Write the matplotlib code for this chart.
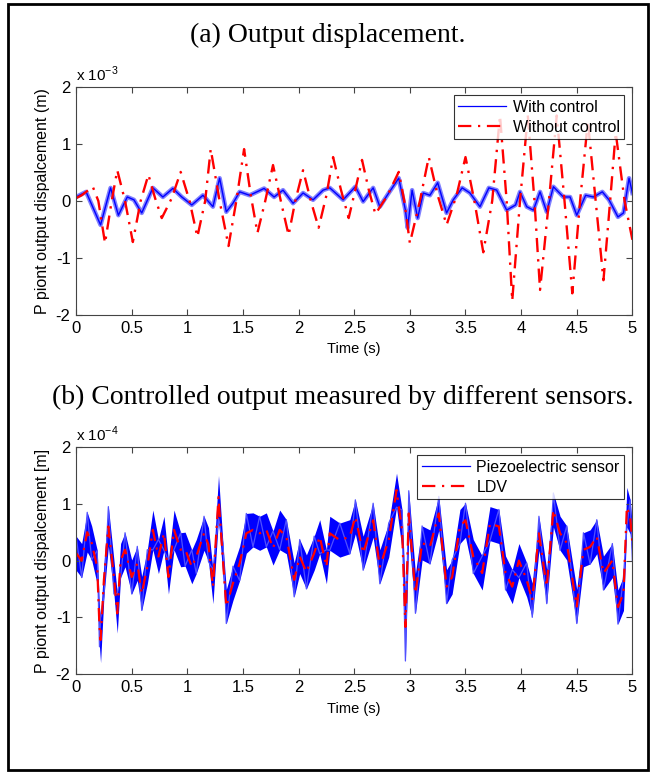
import matplotlib.pyplot as plt
from matplotlib.patches import Rectangle
import numpy as np

plt.rcParams['font.family'] = ['Liberation Sans', 'DejaVu Sans']
plt.rcParams['mathtext.fontset'] = 'custom'
plt.rcParams['mathtext.rm'] = 'Liberation Sans'
plt.rcParams['axes.unicode_minus'] = False

# --- (a) output displacement, values in 1e-3 m ---
t_without = [0.0, 0.05, 0.15, 0.2, 0.26, 0.32, 0.37, 0.44, 0.51, 0.58,
             0.65, 0.71, 0.77, 0.86, 0.94, 1.02, 1.09, 1.16, 1.21, 1.29,
             1.37, 1.44, 1.51, 1.57, 1.63, 1.70, 1.77, 1.84, 1.91, 1.97,
             2.04, 2.11, 2.18, 2.25, 2.31, 2.38, 2.45, 2.51, 2.57, 2.63,
             2.69, 2.80, 2.90, 2.95, 3.0, 3.09, 3.17, 3.25, 3.33, 3.42,
             3.5, 3.58, 3.66, 3.74, 3.81, 3.87, 3.92, 3.99, 4.06, 4.12,
             4.17, 4.25, 4.32, 4.39, 4.46, 4.53, 4.6, 4.67, 4.74, 4.8,
             4.85, 4.93, 5.0]
without_control = [0.05, 0.1, 0.25, 0.0, -0.74, 0.0, 0.54, 0.0, -0.72, 0.0,
                   0.46, 0.05, -0.3, 0.05, 0.51, 0.0, -0.63, 0.0, 0.91, 0.0,
                   -0.79, 0.0, 0.91, 0.1, -0.56, 0.0, 0.63, 0.0, -0.6, 0.0,
                   0.54, 0.0, -0.47, 0.1, 0.77, 0.2, -0.3, 0.2, 0.72, 0.2,
                   -0.23, 0.1, 0.51, 0.0, -0.74, 0.0, 0.77, 0.1, -0.42, 0.1,
                   0.77, 0.0, -0.9, 0.0, 1.5, 0.0, -1.75, 0.0, 1.5, 0.0,
                   -1.56, 0.0, 1.5, 0.0, -1.62, 0.0, 1.4, 0.0, -1.39, 0.0,
                   1.2, 0.0, -0.68]

t_with = [0.0, 0.09, 0.22, 0.31, 0.38, 0.46, 0.52, 0.59, 0.69, 0.78,
          0.87, 0.95, 1.04, 1.14, 1.23, 1.29, 1.35, 1.41, 1.47, 1.56,
          1.69, 1.78, 1.86, 1.95, 2.04, 2.13, 2.22, 2.28, 2.4, 2.51,
          2.58, 2.67, 2.73, 2.81, 2.9, 2.96, 2.98, 3.02, 3.07, 3.12,
          3.18, 3.25, 3.33, 3.39, 3.47, 3.54, 3.63, 3.71, 3.78, 3.87,
          3.95, 3.99, 4.05, 4.11, 4.17, 4.23, 4.29, 4.38, 4.44, 4.5,
          4.58, 4.65, 4.73, 4.79, 4.87, 4.92, 4.97, 5.0]
with_control = [0.07, 0.16, -0.42, 0.23, -0.25, 0.07, 0.02, -0.21, 0.23, 0.07,
                0.22, 0.07, -0.07, 0.1, -0.1, 0.4, -0.19, -0.04, 0.16, 0.1,
                0.22, 0.07, 0.19, -0.04, 0.14, 0.02, 0.19, 0.23, 0.02, 0.25,
                -0.01, 0.23, -0.1, 0.14, 0.4, -0.16, -0.47, 0.19, -0.3, 0.14,
                0.1, 0.32, -0.21, 0.02, 0.23, 0.14, -0.1, 0.23, 0.19, -0.16,
                -0.07, 0.16, -0.1, -0.16, 0.16, -0.19, 0.25, 0.07, 0.07, -0.25,
                0.1, 0.07, 0.16, 0.02, -0.28, -0.21, 0.4, 0.14]

# --- (b) controlled output by two sensors, values in 1e-4 m ---
t_b = [0.0, 0.05, 0.1, 0.14, 0.19, 0.21, 0.22, 0.25, 0.29, 0.34,
       0.37, 0.4, 0.44, 0.5, 0.55, 0.59, 0.64, 0.69, 0.74, 0.79,
       0.83, 0.88, 0.94, 0.98, 1.04, 1.08, 1.15, 1.19, 1.23, 1.28,
       1.32, 1.35, 1.41, 1.47, 1.53, 1.59, 1.65, 1.71, 1.77, 1.83,
       1.89, 1.96, 2.01, 2.07, 2.14, 2.19, 2.25, 2.28, 2.37, 2.46,
       2.51, 2.58, 2.67, 2.73, 2.81, 2.88, 2.93, 2.96, 2.99, 3.05,
       3.11, 3.18, 3.26, 3.33, 3.38, 3.45, 3.5, 3.57, 3.65, 3.72,
       3.8, 3.86, 3.92, 3.98, 4.05, 4.1, 4.16, 4.23, 4.29, 4.35,
       4.41, 4.5, 4.56, 4.62, 4.68, 4.74, 4.82, 4.87, 4.92, 4.95,
       4.98, 5.0]
ldv = [0.13, 0.0, 0.5, 0.31, -0.12, -1.17, -1.4, -0.34, 0.6, -0.29,
       -0.93, 0.0, 0.19, -0.29, -0.05, -0.58, -0.11, 0.54, 0.07, 0.48,
       -0.29, 0.54, 0.19, 0.2, -0.11, 0.07, 0.48, 0.28, -0.46, 1.12,
       0.0, -0.81, -0.4, -0.05, 0.48, 0.54, 0.48, 0.54, 0.22, 0.54,
       0.42, -0.34, 0.07, -0.2, 0.13, 0.42, -0.11, 0.48, 0.36, 0.42,
       0.77, 0.13, 0.71, -0.11, 0.36, 1.24, 0.54, -1.17, 0.83, -0.58,
       0.31, 0.24, 0.83, -0.46, -0.29, 0.6, 0.71, 0.07, -0.22, 0.65,
       0.6, -0.22, -0.46, 0.0, -0.34, -0.7, 0.48, -0.46, 0.89, 0.48,
       0.31, -0.81, 0.19, 0.24, 0.42, -0.22, 0.0, -0.82, -0.58, 0.94,
       0.77, 0.3]
# half-width of the piezo sensor noise band around the LDV trace
piezo_spread = [0.3, 0.3, 0.35, 0.3, 0.3, 0.35, 0.4, 0.3, 0.35, 0.3,
                0.35, 0.3, 0.3, 0.3, 0.3, 0.3, 0.3, 0.35, 0.3, 0.3,
                0.3, 0.35, 0.3, 0.3, 0.3, 0.3, 0.3, 0.3, 0.3, 0.38,
                0.3, 0.3, 0.3, 0.3, 0.35, 0.3, 0.3, 0.3, 0.3, 0.35,
                0.3, 0.3, 0.3, 0.3, 0.3, 0.3, 0.3, 0.3, 0.3, 0.3,
                0.3, 0.3, 0.3, 0.3, 0.3, 0.3, 0.35, 0.6, 0.4, 0.35,
                0.3, 0.3, 0.3, 0.3, 0.3, 0.3, 0.3, 0.3, 0.3, 0.3,
                0.3, 0.3, 0.3, 0.3, 0.3, 0.3, 0.3, 0.3, 0.3, 0.3,
                0.3, 0.3, 0.3, 0.3, 0.3, 0.3, 0.3, 0.3, 0.3, 0.35,
                0.3, 0.3]

fig = plt.figure(figsize=(6.56, 7.73), dpi=100)
fig.patch.set_facecolor('white')

# frame round the whole figure
fig.patches.append(Rectangle((8 / 656, 3 / 773), 640 / 656, 766 / 773,
                             transform=fig.transFigure, fill=False,
                             ec='black', lw=2))

DASHDOT = (0, (6, 3, 1, 3))


def style_axes(ax, exp, ylab):
    ax.set_xlim(0, 5)
    ax.set_ylim(-2, 2)
    ax.set_xticks(np.arange(0, 5.01, 0.5))
    ax.set_xticklabels(['0', '0.5', '1', '1.5', '2', '2.5', '3', '3.5', '4', '4.5', '5'])
    ax.set_yticks([-2, -1, 0, 1, 2])
    ax.tick_params(direction='in', top=True, right=True, labelsize=12,
                   length=4, width=0.8, color='#444444', pad=4)
    for sp in ax.spines.values():
        sp.set_color('#444444')
        sp.set_linewidth(0.8)
    ax.set_xlabel('Time (s)', fontsize=10.5, labelpad=5)
    ax.set_ylabel(ylab, fontsize=11.5, labelpad=4)
    ax.text(0.0, 1.015, 'x 10$^{\\mathregular{' + exp + '}}$', transform=ax.transAxes,
            fontsize=11, ha='left', va='bottom')


def make_legend(ax, handles, labels):
    leg = ax.legend(handles, labels, loc='upper right', fontsize=11.5, frameon=True,
                    fancybox=False, borderaxespad=0.5, handlelength=3.0,
                    handletextpad=0.4, borderpad=0.3, labelspacing=0.3)
    leg.get_frame().set_edgecolor('black')
    leg.get_frame().set_linewidth(0.8)
    return leg


blue_handle = plt.Line2D([], [], color='#0000ff', lw=0.9)
red_handle = plt.Line2D([], [], color='red', lw=1.6, ls=DASHDOT)

# (a)
ax1 = fig.add_axes([0.116, 0.5925, 0.848, 0.295])
ax1.plot(t_with, with_control, color='#8080ff', lw=3.2)
ax1.plot(t_with, with_control, color='#0000ff', lw=1.0)
ax1.plot(t_without, without_control, color='red', lw=1.7, ls=DASHDOT)
style_axes(ax1, '-3', 'P piont output dispalcement (m)')
make_legend(ax1, [blue_handle, red_handle], ['With control', 'Without control'])
fig.text(0.5, 1 - 35 / 773, '(a) Output displacement.', family='Liberation Serif',
         fontsize=20, ha='center', va='center')

# (b)
ax2 = fig.add_axes([0.116, 0.128, 0.848, 0.2937])
lo = np.array(ldv) - np.array(piezo_spread)
hi = np.array(ldv) + np.array(piezo_spread)
ax2.fill_between(t_b, lo, hi, color='#0000ff', lw=0)
# spiky noise: alternate between the upper and lower edge of the band
zig = np.where(np.arange(len(t_b)) % 2 == 0, hi, lo)
ax2.plot(t_b, zig, color='#5050ff', lw=0.9)
ax2.plot(t_b, ldv, color='red', lw=1.6, ls=DASHDOT)
style_axes(ax2, '-4', 'P piont output dispalcement [m]')
make_legend(ax2, [blue_handle, red_handle], ['Piezoelectric sensor', 'LDV'])
fig.text(0.523, 1 - 397 / 773, '(b) Controlled output measured by different sensors.',
         family='Liberation Serif', fontsize=20, ha='center', va='center')

fig.savefig('out.png', dpi=100)
